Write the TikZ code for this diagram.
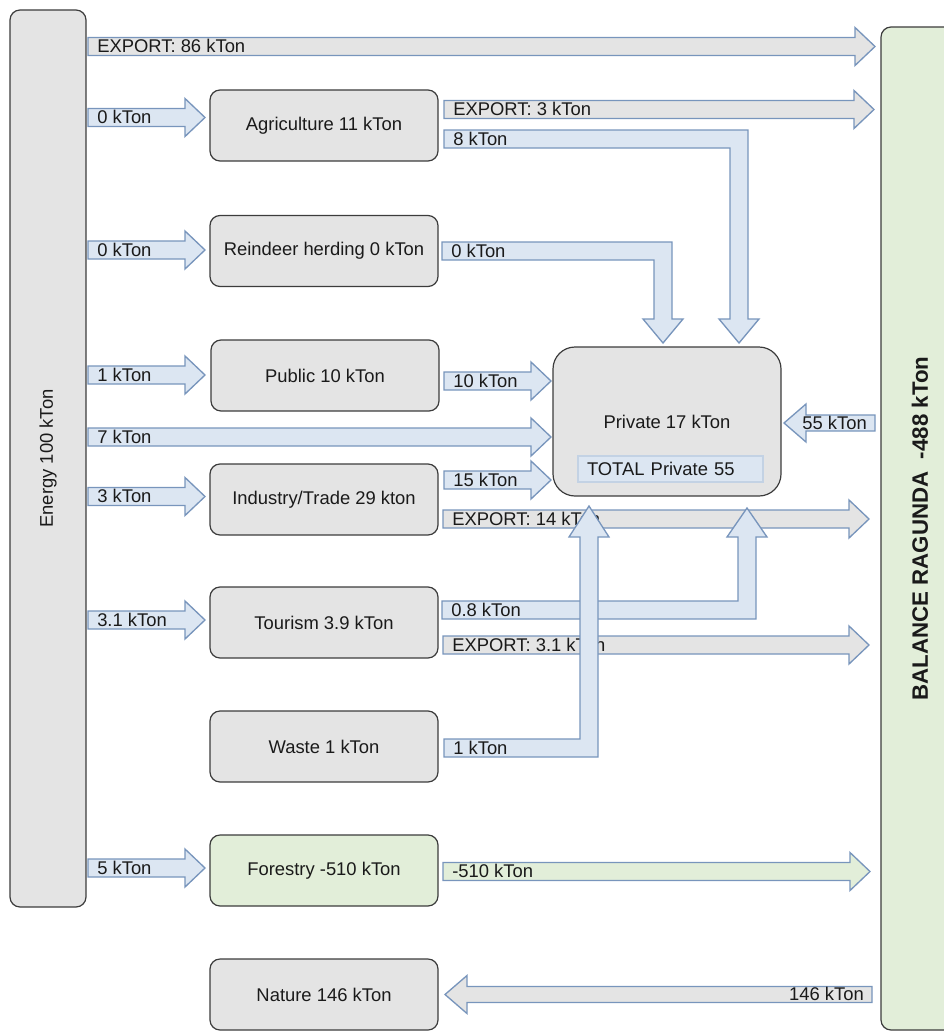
\documentclass[tikz,border=0pt]{standalone}
\usepackage{fontspec}
\setmainfont{Liberation Sans}

\definecolor{boxgray}{HTML}{E4E4E4}
\definecolor{flowblue}{HTML}{DCE6F2}
\definecolor{leafgreen}{HTML}{E2EED9}
\definecolor{edgeblue}{HTML}{7895BC}
\definecolor{edgedark}{HTML}{3C3C3C}
\definecolor{totaledge}{HTML}{C3D2E4}
\definecolor{ink}{HTML}{1A1A1A}

\tikzset{
  box/.style={draw=edgedark, line width=0.9pt, fill=boxgray, rounded corners=7.5pt,
    minimum width=171pt, minimum height=53.25pt, inner sep=0pt, text=ink,
    font=\fontsize{13.8}{16}\selectfont},
  lbl/.style={inner sep=0pt, text=ink, font=\fontsize{13.8}{16}\selectfont},
  bluef/.style={draw=edgeblue, line width=1pt, fill=flowblue},
  grayf/.style={draw=edgeblue, line width=1pt, fill=boxgray},
  greenf/.style={draw=edgeblue, line width=1pt, fill=leafgreen},
}

% right-pointing block arrow: style, x start, x tip, y centre, label, label name
\newcommand\flowR[6]{%
  \draw[#1] (#2,#4-9) -- (#3-20,#4-9) -- (#3-20,#4-19) -- (#3,#4)
    -- (#3-20,#4+19) -- (#3-20,#4+9) -- (#2,#4+9) -- cycle;
  \node[lbl, anchor=base west] (#6) at (#2+9,#4+6) {#5};}

% left-pointing block arrow: style, x shaft end, x tip, y centre, label, label name
\newcommand\flowL[6]{%
  \draw[#1] (#2,#4-8) -- (#3+22,#4-8) -- (#3+22,#4-19) -- (#3,#4)
    -- (#3+22,#4+19) -- (#3+22,#4+8) -- (#2,#4+8) -- cycle;
  \node[lbl, anchor=base east] (#6) at (#2-8,#4+6) {#5};}

\begin{document}
\begin{tikzpicture}[x=0.75pt, y=-0.75pt]
\useasboundingbox (0,0) rectangle (944,1031);
\clip (0,0) rectangle (944,1031);

% side bars
\node[box, minimum width=57pt, minimum height=672.75pt] (energy) at (48,458.5) {};
\node[lbl, rotate=90] (energytxt) at (energy.center) {Energy 100 kTon};
\node[box, fill=leafgreen, minimum width=58.5pt, minimum height=752.25pt] (balance) at (920,528.5) {};
\node[lbl, rotate=90, font=\bfseries\fontsize{16.7}{20}\selectfont] (balancetxt)
  at (balance.center) {BALANCE RAGUNDA\ \ -488 kTon};

% sector boxes
\node[box] (agri)   at (324,125.5) {Agriculture 11 kTon};
\node[box] (rein)   at (324,251)   {Reindeer herding 0 kTon};
\node[box] (pub)    at (325,375.5) {Public 10 kTon};
\node[box] (ind)    at (324,499.5) {Industry/Trade 29 kton};
\node[box] (tour)   at (324,622.5) {Tourism 3.9 kTon};
\node[box] (waste)  at (324,746.5) {Waste 1 kTon};
\node[box, fill=leafgreen] (forest) at (324,870.5) {Forestry -510 kTon};
\node[box] (nature) at (324,994.5) {Nature 146 kTon};

% private households
\node[box, minimum height=111.75pt, rounded corners=16.5pt] (priv) at (667,421.5) {Private 17 kTon};
\node[draw=totaledge, line width=0.8pt, fill=flowblue, minimum width=138.75pt, minimum height=19.5pt,
  text width=125.25pt, inner xsep=6.75pt, inner ysep=0pt, align=left, text=ink,
  font=\fontsize{13.8}{16}\selectfont] (total) at (670.5,469) {TOTAL Private 55};

% flows out of the energy sector
\flowR{grayf}{88}{875}{46.5}{EXPORT: 86 kTon}{eexp}
\flowR{bluef}{88}{205}{117.5}{0 kTon}{eagri}
\flowR{bluef}{88}{205}{250}{0 kTon}{erein}
\flowR{bluef}{88}{205}{375}{1 kTon}{epub}
\flowR{bluef}{88}{551}{437}{7 kTon}{epriv}
\flowR{bluef}{88}{205}{496.5}{3 kTon}{eind}
\flowR{bluef}{88}{205}{620}{3.1 kTon}{etour}
\flowR{bluef}{88}{205}{868}{5 kTon}{eforest}

% flows out of the sectors
\flowR{grayf}{444}{874}{109.5}{EXPORT: 3 kTon}{aexp}
\draw[bluef] (444,130) -- (748,130) -- (748,319) -- (759,319) -- (739,343)
  -- (719,319) -- (730,319) -- (730,148) -- (444,148) -- cycle;
\node[lbl, anchor=base west] (apriv) at (453,145) {8 kTon};

\draw[bluef] (442,242) -- (672,242) -- (672,319) -- (683,319) -- (663,343)
  -- (643,319) -- (654,319) -- (654,260) -- (442,260) -- cycle;
\node[lbl, anchor=base west] (rpriv) at (451,257) {0 kTon};

\flowR{bluef}{444}{551}{381}{10 kTon}{ppriv}
\flowR{bluef}{444}{551}{480}{15 kTon}{ipriv}
\flowR{grayf}{443}{869}{519}{EXPORT: 14 kTon}{iexp}
\flowR{grayf}{443}{869}{645}{EXPORT: 3.1 kTon}{texp}

\draw[bluef] (442,619) -- (756,619) -- (756,537) -- (767,537) -- (747,508)
  -- (727,537) -- (738,537) -- (738,601) -- (442,601) -- cycle;
\node[lbl, anchor=base west] (tpriv) at (451,616) {0.8 kTon};

\draw[bluef] (444,757) -- (598,757) -- (598,537) -- (609,537) -- (589,506)
  -- (569,537) -- (580,537) -- (580,739) -- (444,739) -- cycle;
\node[lbl, anchor=base west] (wpriv) at (453,754) {1 kTon};

\flowR{greenf}{443}{870}{871.5}{-510 kTon}{fbal}

% flows out of the balance
\flowL{bluef}{875}{784}{423}{55 kTon}{bpriv}
\flowL{grayf}{872}{445}{994.5}{146 kTon}{bnat}
\end{tikzpicture}
\end{document}
